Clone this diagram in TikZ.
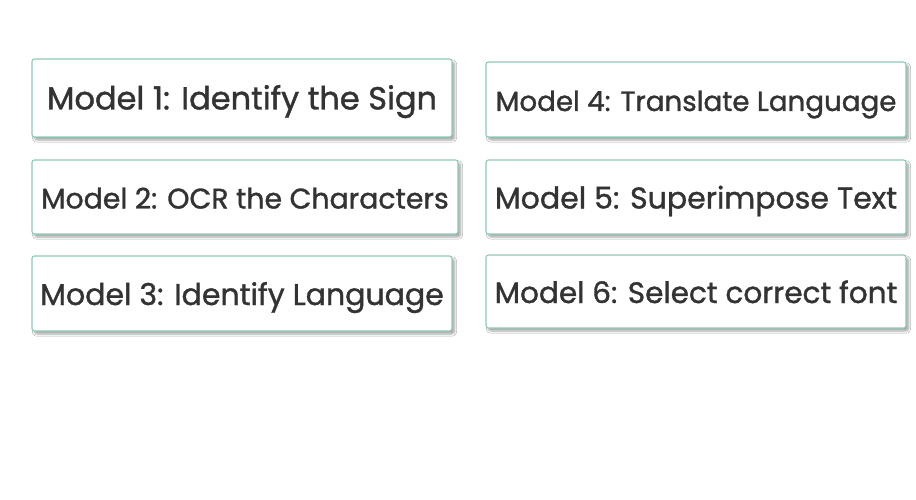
\documentclass[tikz,border=0pt]{standalone}
\usepackage{fontspec}
\setmainfont{Poppins}[FakeBold=1.2]
\usetikzlibrary{shadows.blur}
\definecolor{boxline}{HTML}{8CCBB8}
\definecolor{boxtext}{HTML}{333333}
\begin{document}
\begin{tikzpicture}[x=1pt,y=-1pt,line join=round,
	modelbox/.style={draw=boxline,line width=1.1pt,fill=white,rounded corners=2.5pt,
		text=boxtext,inner sep=0pt,align=center,text height=23pt,text depth=0pt,
		blur shadow={shadow xshift=2.5pt,shadow yshift=-3pt,shadow blur steps=6,shadow opacity=35}},
	fsize/.style={font=\fontsize{#1}{#1}\selectfont}]
	\useasboundingbox[fill=white] (0,0) rectangle (916,500);
	% left column
	\node[modelbox,fsize=32,minimum width=420pt,minimum height=78pt] (m1) at (242,98) {Model 1: Identify the Sign};
	\node[modelbox,fsize=28.3,minimum width=426pt,minimum height=74pt] (m2) at (245,197) {Model 2: OCR the Characters};
	\node[modelbox,fsize=30,minimum width=420pt,minimum height=75pt] (m3) at (242,293.5) {Model 3: Identify Language};
	% right column
	\node[modelbox,fsize=27.7,minimum width=420pt,minimum height=75pt] (m4) at (696,99.5) {Model 4: Translate Language};
	\node[modelbox,fsize=30,minimum width=420pt,minimum height=74pt] (m5) at (696,197) {Model 5: Superimpose Text};
	\node[modelbox,fsize=29.5,minimum width=420pt,minimum height=73pt] (m6) at (696,291.5) {Model 6: Select correct font};
\end{tikzpicture}
\end{document}
